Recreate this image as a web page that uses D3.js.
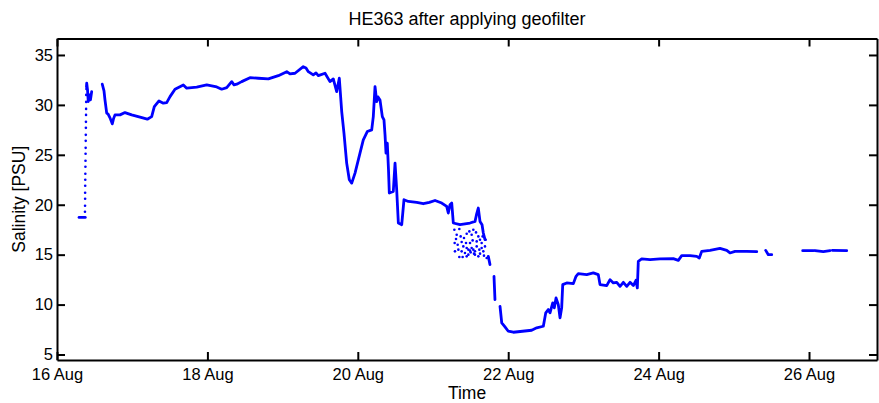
<!DOCTYPE html>
<html>
  <head>
    <meta http-equiv="Content-Type" content="text/html;charset=utf-8">
    <script src="https://d3js.org/d3.v7.min.js"></script>
    <style>
      body { margin: 0; background: #fff; }
      text { font-family: "Liberation Sans", Arial, sans-serif; fill: #000; }
    </style>
  </head>
  <body>
    <svg id="chart" width="879" height="403"></svg>
    <script type="text/javascript">

// time is in days after 16 Aug 00:00, salinity in PSU
var segStart = [[0.293, 18.73], [0.376, 18.73]];
var riseDots = [[0.372, 19.3], [0.373, 19.9], [0.374, 20.6], [0.374, 21.2], [0.375, 21.9],
  [0.376, 22.5], [0.377, 23.1], [0.378, 23.8], [0.379, 24.4], [0.380, 25.1], [0.381, 25.7],
  [0.382, 26.4], [0.383, 27.0], [0.384, 27.7], [0.385, 28.3], [0.386, 29.0], [0.387, 29.6],
  [0.388, 30.3], [0.389, 31.0], [0.391, 31.6]];
var segTop = [[0.392, 31.8], [0.395, 32.17], [0.406, 31.5], [0.416, 30.33], [0.432, 31.0],
  [0.445, 30.5], [0.461, 31.33]];
var segMain = [[0.602, 32.07], [0.625, 31.4], [0.638, 30.5], [0.661, 29.17], [0.678, 29.1],
  [0.705, 28.7], [0.735, 28.1], [0.751, 28.6], [0.771, 29.0], [0.838, 29.0], [0.904, 29.23],
  [0.993, 29.0], [1.104, 28.77], [1.201, 28.57], [1.259, 28.83], [1.294, 29.83], [1.356, 30.4],
  [1.414, 30.17], [1.459, 30.23], [1.503, 30.83], [1.569, 31.57], [1.680, 32.0], [1.725, 31.67],
  [1.858, 31.77], [1.991, 32.0], [2.124, 31.8], [2.190, 31.57], [2.257, 31.73], [2.323, 32.33],
  [2.354, 32.0], [2.390, 32.07], [2.456, 32.33], [2.566, 32.73], [2.677, 32.67], [2.810, 32.6],
  [2.943, 32.93], [3.055, 33.33], [3.098, 33.1], [3.165, 33.17], [3.275, 33.83], [3.311, 33.7],
  [3.342, 33.33], [3.408, 33.0], [3.444, 33.2], [3.475, 32.93], [3.564, 33.17], [3.630, 32.33],
  [3.674, 32.6], [3.719, 31.33], [3.754, 32.67], [3.786, 29.33], [3.816, 27.17], [3.852, 24.17],
  [3.887, 22.5], [3.919, 22.17], [3.963, 23.17], [4.029, 25.17], [4.073, 26.5], [4.126, 27.33],
  [4.185, 27.5], [4.206, 28.83], [4.229, 31.83], [4.251, 30.33], [4.269, 30.8], [4.295, 30.5],
  [4.326, 28.83], [4.348, 28.5], [4.362, 27.0], [4.375, 25.17], [4.392, 26.17], [4.408, 23.5],
  [4.419, 21.17], [4.472, 21.33], [4.495, 24.17], [4.517, 21.5], [4.539, 18.17], [4.584, 18.0],
  [4.614, 20.5], [4.672, 20.33], [4.783, 20.23], [4.871, 20.1], [4.951, 20.23], [5.027, 20.43],
  [5.116, 20.17], [5.182, 19.83], [5.203, 19.17], [5.226, 20.0], [5.249, 20.17], [5.270, 18.17],
  [5.359, 18.0], [5.492, 18.17], [5.559, 18.33], [5.578, 19.0], [5.602, 19.67], [5.625, 18.33],
  [5.652, 18.0], [5.669, 17.17], [5.691, 16.5]];
var segDrop1 = [[5.735, 14.83], [5.758, 14.0]];
var segDrop2 = [[5.811, 12.83], [5.824, 10.5]];
var segLow = [[5.891, 9.83], [5.914, 8.17], [5.957, 7.77], [6.001, 7.33], [6.068, 7.23],
  [6.312, 7.43], [6.379, 7.67], [6.467, 7.83], [6.499, 9.17], [6.533, 9.5], [6.556, 9.17],
  [6.592, 10.17], [6.613, 9.67], [6.636, 10.67], [6.666, 10.0], [6.689, 8.67], [6.711, 9.67],
  [6.725, 12.0], [6.778, 12.17], [6.866, 12.1], [6.902, 12.83], [6.932, 13.1], [7.044, 13.0],
  [7.132, 13.17], [7.198, 13.0], [7.221, 12.0], [7.310, 11.9], [7.354, 12.5], [7.398, 12.17],
  [7.443, 12.23], [7.487, 11.83], [7.531, 12.23], [7.576, 11.83], [7.620, 12.23], [7.664, 11.9],
  [7.699, 12.43], [7.717, 11.67], [7.730, 14.33], [7.775, 14.57], [7.886, 14.5], [8.019, 14.57],
  [8.195, 14.6], [8.262, 14.43], [8.307, 14.9], [8.418, 14.9], [8.507, 14.83], [8.541, 14.67],
  [8.573, 15.33], [8.684, 15.43], [8.816, 15.63], [8.906, 15.43], [8.949, 15.17], [9.016, 15.33],
  [9.171, 15.33], [9.305, 15.3]];
var segHook = [[9.424, 15.43], [9.459, 15.0], [9.504, 15.0]];
var segEnd1 = [[9.916, 15.4], [10.060, 15.4]];
var segEnd2 = [[10.080, 15.4], [10.190, 15.3], [10.280, 15.4]];
var segEnd3 = [[10.310, 15.43], [10.501, 15.4]];

var cloudDots = [[5.284, 17.5], [5.315, 17.0], [5.350, 17.57], [5.288, 16.17], [5.328, 16.0],
  [5.381, 16.27], [5.412, 16.67], [5.448, 17.1], [5.483, 17.33], [5.514, 17.0], [5.536, 17.5],
  [5.572, 17.23], [5.603, 16.83], [5.625, 16.5], [5.292, 15.33], [5.337, 15.5], [5.381, 15.33],
  [5.425, 15.17], [5.448, 15.67], [5.470, 15.5], [5.492, 15.4], [5.514, 15.67], [5.536, 15.5],
  [5.558, 15.33], [5.581, 15.83], [5.616, 15.5], [5.647, 15.67], [5.669, 15.33], [5.350, 14.77],
  [5.394, 14.77], [5.470, 15.0], [5.545, 15.1], [5.625, 15.1], [5.678, 14.9], [5.714, 14.67],
  [5.403, 15.83], [5.492, 16.17], [5.581, 16.33], [5.647, 16.17], [5.691, 15.83], [5.306, 16.57],
  [5.368, 16.83], [5.439, 16.17], [5.527, 16.43], [5.660, 16.83], [5.700, 16.5], [5.558, 15.0],
  [5.603, 14.83], [5.448, 14.83], [5.501, 15.23]];

var xTickDays = [16, 18, 20, 22, 24, 26];
var yTickValues = [5, 10, 15, 20, 25, 30, 35];

var base = Date.UTC(2013, 7, 16);
function toDate(d) { return new Date(base + d * 86400000); }

var margin = {top: 38.5, right: 2, bottom: 43, left: 57};
var W = 879, H = 403;
var w = W - margin.left - margin.right;
var h = H - margin.top - margin.bottom;

var svg = d3.select("#chart");
var g = svg.append("g").attr("transform", "translate(" + margin.left + "," + margin.top + ")");

var x = d3.scaleUtc().domain([toDate(0), toDate(10.904)]).range([0, w]);
var y = d3.scaleLinear().domain([4.45, 36.65]).range([h, 0]);

var line = d3.line()
    .x(function(d) { return x(toDate(d[0])); })
    .y(function(d) { return y(d[1]); });

var segments = [segStart, segTop, segMain, segDrop1, segDrop2, segLow, segHook, segEnd1, segEnd2, segEnd3];

g.selectAll("path.seg")
  .data(segments)
  .enter().append("path")
    .attr("class", "seg")
    .attr("d", line)
    .style("fill", "none")
    .style("stroke", "#0000ff")
    .style("stroke-width", 2.8)
    .style("stroke-linejoin", "round")
    .style("stroke-linecap", "round");

g.selectAll("circle.dot")
  .data(riseDots.concat(cloudDots))
  .enter().append("circle")
    .attr("class", "dot")
    .attr("cx", function(d) { return x(toDate(d[0])); })
    .attr("cy", function(d) { return y(d[1]); })
    .attr("r", 1.3)
    .style("fill", "#0000ff");

var xTicks = xTickDays.map(function(dd) { return toDate(dd - 16); });
var fmt = d3.utcFormat("%-d %b");

var xAxis = g.append("g").attr("transform", "translate(0," + h + ")")
  .call(d3.axisBottom(x).tickValues(xTicks).tickFormat(fmt).tickSizeInner(-8).tickSizeOuter(0).tickPadding(8));
var xAxisTop = g.append("g")
  .call(d3.axisTop(x).tickValues(xTicks).tickFormat("").tickSizeInner(-8).tickSizeOuter(0));
var yAxis = g.append("g")
  .call(d3.axisLeft(y).tickValues(yTickValues).tickSizeInner(-8).tickSizeOuter(0).tickPadding(4));
var yAxisRight = g.append("g").attr("transform", "translate(" + w + ",0)")
  .call(d3.axisRight(y).tickValues(yTickValues).tickFormat("").tickSizeInner(-8).tickSizeOuter(0));

[xAxis, xAxisTop, yAxis, yAxisRight].forEach(function(a) {
  a.select(".domain").style("stroke", "#000").style("stroke-width", 2);
  a.selectAll(".tick line").style("stroke", "#000").style("stroke-width", 2);
  a.selectAll(".tick text").style("font-size", "16.5px").style("font-family", "Liberation Sans, Arial, sans-serif");
});

svg.append("text")
  .attr("x", margin.left + w / 2)
  .attr("y", 25)
  .attr("text-anchor", "middle")
  .style("font-size", "18px")
  .text("HE363 after applying geofilter");

svg.append("text")
  .attr("x", margin.left + w / 2)
  .attr("y", 399)
  .attr("text-anchor", "middle")
  .style("font-size", "17.5px")
  .text("Time");

svg.append("text")
  .attr("transform", "translate(24.5," + (margin.top + h / 2) + ") rotate(-90)")
  .attr("text-anchor", "middle")
  .style("font-size", "17.5px")
  .text("Salinity [PSU]");

    </script>
  </body>
</html>
